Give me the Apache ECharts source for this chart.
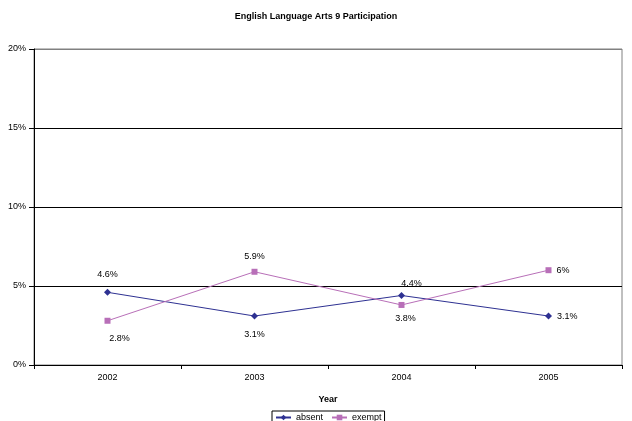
<!DOCTYPE html>
<html>
<head>
<meta charset="utf-8">
<script src="https://cdn.jsdelivr.net/npm/echarts@6/dist/echarts.min.js"></script>
<style>html,body{margin:0;padding:0;background:#fff;}#c{width:632px;height:421px;}</style>
</head>
<body>
<div id="c"></div>
<script>
var title = 'English Language Arts 9 Participation';
var categories = ['2002', '2003', '2004', '2005'];
var absent = [4.6, 3.1, 4.4, 3.1];
var exempt = [2.8, 5.9, 3.8, 6];
var yTicks = [0, 5, 10, 15, 20];

var absentLabelPos = [
  {position: 'top', distance: 10, offset: [0, 0]},
  {position: 'bottom', distance: 10, offset: [0, 0]},
  {position: 'top', distance: 4, offset: [10, 0]},
  {position: 'right', distance: 5, offset: [0, 0]}
];
var exemptLabelPos = [
  {position: 'bottom', distance: 10, offset: [12, 0]},
  {position: 'top', distance: 8, offset: [0, 0]},
  {position: 'bottom', distance: 6, offset: [4, 0]},
  {position: 'right', distance: 5, offset: [0, 0]}
];

function mk(vals, pos) {
  return vals.map(function (v, i) {
    return {value: v, label: pos[i]};
  });
}

var chart = echarts.init(document.getElementById('c'), null, {renderer: 'canvas'});
var font = 'Arial, "Liberation Sans", sans-serif';
chart.setOption({
  animation: false,
  backgroundColor: '#fff',
  textStyle: {fontFamily: font},
  title: {
    text: title, left: 'center', top: 7,
    textStyle: {fontFamily: font, fontSize: 9, fontWeight: 'bold', color: '#000'}
  },
  grid: {left: 34, right: 10, top: 49, bottom: 56, show: true, borderColor: '#808080', borderWidth: 1},
  xAxis: {
    type: 'category', data: categories, boundaryGap: true,
    name: 'Year', nameLocation: 'middle', nameGap: 30,
    nameTextStyle: {fontFamily: font, fontSize: 9, fontWeight: 'bold', color: '#000'},
    axisLine: {lineStyle: {color: '#000', width: 1}},
    axisTick: {show: true, length: 4, inside: false, lineStyle: {color: '#000'}},
    axisLabel: {fontFamily: font, fontSize: 9, color: '#000', margin: 8},
    splitLine: {show: false}
  },
  yAxis: {
    type: 'value', min: yTicks[0], max: yTicks[yTicks.length - 1], interval: 5,
    axisLine: {show: true, lineStyle: {color: '#000', width: 1}},
    axisTick: {show: true, length: 5, lineStyle: {color: '#000'}},
    axisLabel: {fontFamily: font, fontSize: 9, color: '#000', margin: 8, formatter: '{value}%'},
    splitLine: {show: true, lineStyle: {color: ['#000', '#000', '#000', '#000', '#808080'], width: 1}}
  },
  legend: {
    left: 272, top: 411, padding: [2, 3, 2, 3],
    borderColor: '#000', borderWidth: 1,
    itemWidth: 15, itemHeight: 7, itemGap: 8,
    textStyle: {fontFamily: font, fontSize: 9, color: '#000'},
    data: ['absent', 'exempt']
  },
  series: [
    {
      name: 'absent', type: 'line', data: mk(absent, absentLabelPos),
      symbol: 'diamond', symbolSize: 7,
      lineStyle: {color: '#2E3192', width: 1},
      itemStyle: {color: '#2E3192'},
      label: {show: true, formatter: '{c}%', fontFamily: font, fontSize: 9, color: '#000'}
    },
    {
      name: 'exempt', type: 'line', data: mk(exempt, exemptLabelPos),
      symbol: 'rect', symbolSize: 6,
      lineStyle: {color: '#B86FB8', width: 1},
      itemStyle: {color: '#B86FB8'},
      label: {show: true, formatter: '{c}%', fontFamily: font, fontSize: 9, color: '#000'}
    }
  ]
});
</script>
</body>
</html>
